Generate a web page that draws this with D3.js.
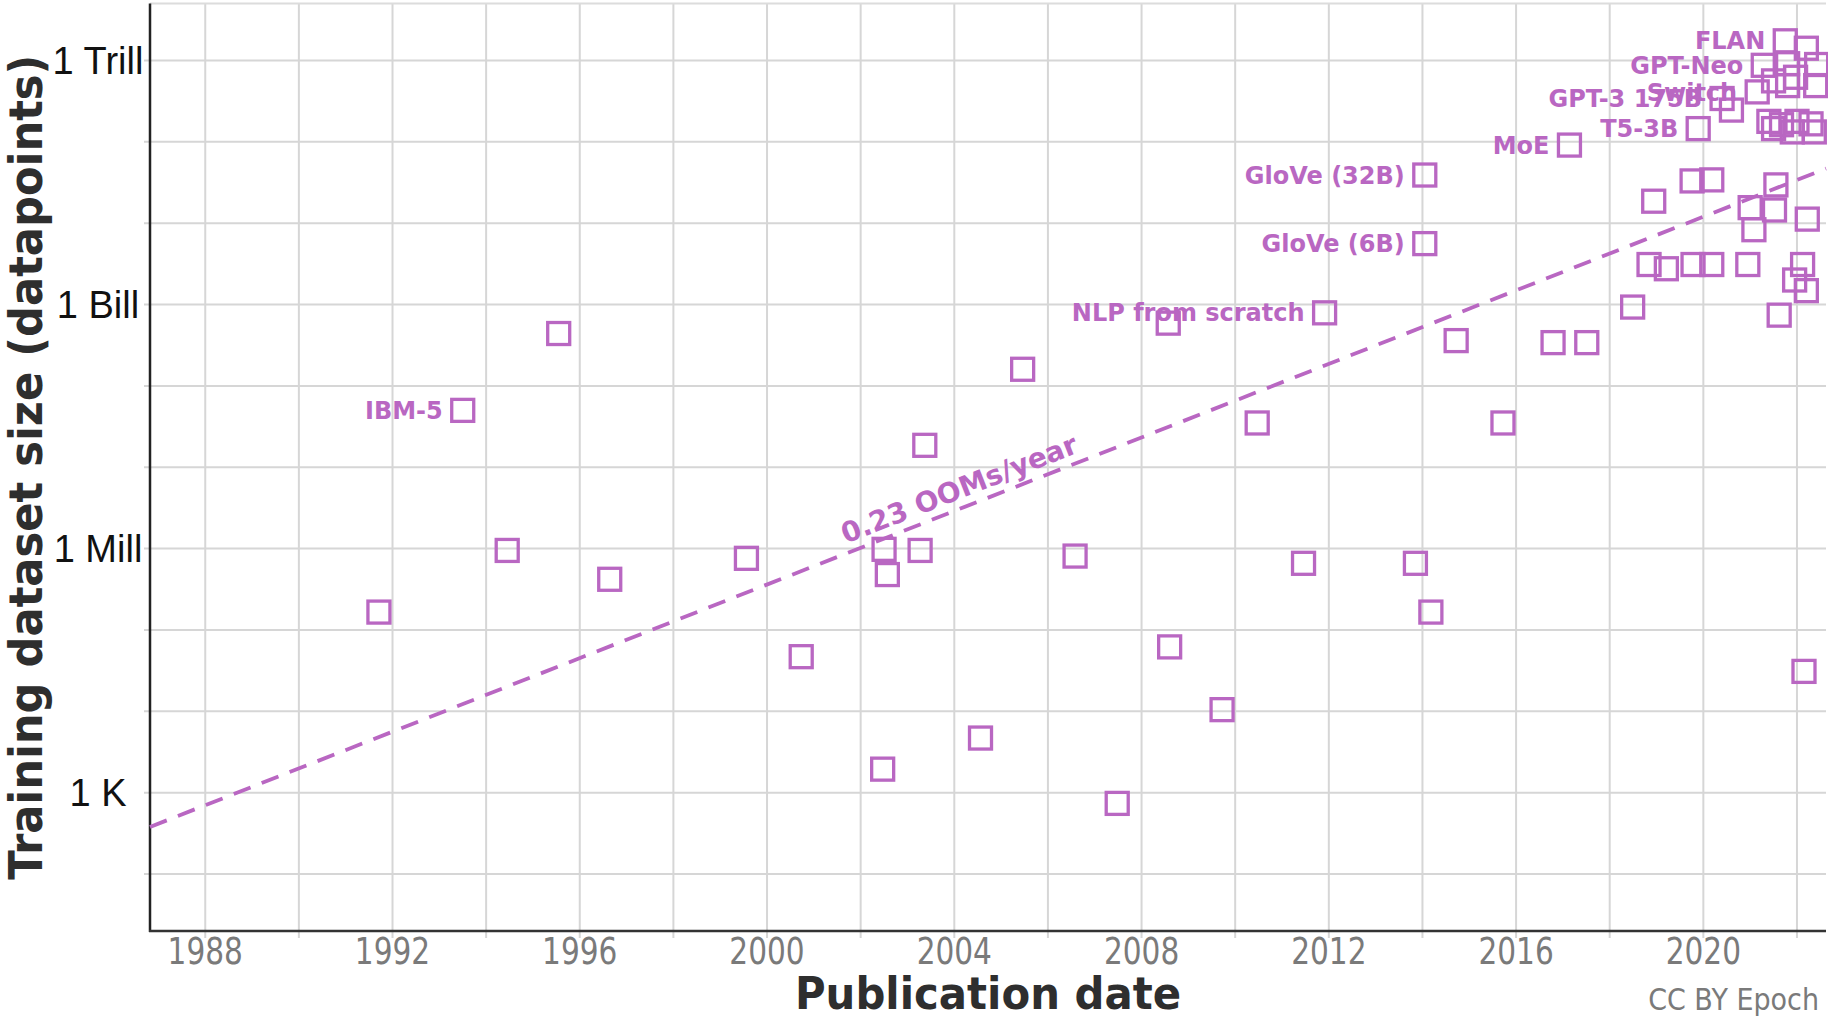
<!DOCTYPE html>
<html><head><meta charset="utf-8">
<script src="https://cdn.jsdelivr.net/npm/d3@7"></script>
<style>html,body{margin:0;padding:0;background:#fff} svg{display:block}</style>
</head><body><svg id="chart" width="1828" height="1018"></svg>
<script>
// ---------- data ----------
const pubYear = [
  1991.71, 1993.50, 1994.45, 1995.55, 1996.64, 1999.56, 2000.73, 2002.47, 2002.50, 2002.57,
  2003.27, 2003.37, 2004.56, 2005.46, 2006.58, 2007.48, 2008.57, 2008.60, 2009.72, 2010.47,
  2011.46, 2011.91, 2013.85, 2014.05, 2014.05, 2014.18, 2014.72, 2015.72, 2016.79, 2017.14,
  2017.51, 2018.49, 2018.94, 2018.84, 2019.21, 2019.76, 2019.89, 2019.78, 2020.18, 2020.18,
  2020.40, 2020.60, 2020.95, 2021.00, 2021.08, 2021.15, 2021.62, 2021.55, 2021.52, 2022.15,
  2022.22, 2022.12, 2022.20, 2021.95, 2021.75, 2022.20, 2021.28, 2021.80, 2022.42, 2021.50,
  2021.97, 2022.40, 2021.80, 2021.40, 2021.50, 2021.67, 2022.00, 2022.30, 2021.90, 2022.37
];
const datasetSize = [
  1.66e5, 5.0e7, 9.5e5, 4.4e8, 4.2e5, 7.6e5, 4.7e4, 1.95e3, 9.8e5, 4.8e5,
  9.5e5, 1.86e7, 4.7e3, 1.6e8, 8.1e5, 740, 5.9e8, 6.2e4, 1.05e4, 3.5e7,
  6.6e5, 7.9e8, 6.6e5, 3.9e10, 5.6e9, 1.66e5, 3.6e8, 3.5e7, 3.4e8, 9.1e10,
  3.4e8, 9.3e8, 1.86e10, 3.1e9, 2.75e9, 3.3e10, 1.45e11, 3.1e9, 3.4e10, 3.1e9,
  3.4e11, 2.45e11, 3.1e9, 1.55e10, 8.3e9, 4.1e11, 7.4e8, 2.95e10, 1.45e10, 3.1e4,
  1.12e10, 3.1e9, 1.48e9, 2.0e9, 1.74e12, 1.41e12, 8.7e11, 9.1e11, 8.9e11, 5.6e11,
  6.2e11, 4.9e11, 4.9e11, 1.78e11, 1.45e11, 1.62e11, 1.78e11, 1.66e11, 1.32e11, 1.32e11
];
const labelNames = ["IBM-5", "NLP from scratch", "GloVe (32B)", "GloVe (6B)", "MoE", "T5-3B", "GPT-3 175B", "Switch", "FLAN", "GPT-Neo"];
const labelIndex = [1, 21, 23, 24, 29, 36, 40, 45, 54, 56];
const xTickYears = [1988, 1992, 1996, 2000, 2004, 2008, 2012, 2016, 2020];
const xGridYears = [1988, 1990, 1992, 1994, 1996, 1998, 2000, 2002, 2004, 2006, 2008, 2010, 2012, 2014, 2016, 2018, 2020, 2022];
const yGridValues = [1e2, 1e3, 1e4, 1e5, 1e6, 1e7, 1e8, 1e9, 1e10, 1e11, 1e12];
const yTickValues = [1e3, 1e6, 1e9, 1e12];
const yTickLabels = ["1 K", "1 Mill", "1 Bill", "1 Trill"];
const trendYears = [1986.82, 2022.62];
const trendValues = [380, 4.68e10];
const trendText = "0.23 OOMs/year";
const trendTextYear = 2004.25;

// ---------- layout ----------
const L = 150, R = 1826, T = 3.5, B = 931;
const purple = "#b967c2";
const svg = d3.select("#chart");
const x = d3.scaleLinear().domain([1986.82, 2022.62]).range([L, R]);
const y = d3.scaleLog().domain([20, 5e12]).range([B, T]);

// grid
const g = svg.append("g");
g.selectAll("line.hg").data(yGridValues).join("line")
  .attr("x1", L - 6).attr("x2", R).attr("y1", d => y(d)).attr("y2", d => y(d))
  .attr("stroke", "#d6d6d6").attr("stroke-width", 2);
g.selectAll("line.vg").data(xGridYears).join("line")
  .attr("x1", d => x(d)).attr("x2", d => x(d)).attr("y1", T).attr("y2", B + 7)
  .attr("stroke", "#d6d6d6").attr("stroke-width", 2);
g.append("line").attr("x1", L).attr("x2", R).attr("y1", T).attr("y2", T)
  .attr("stroke", "#dcdcdc").attr("stroke-width", 2);

// axes lines
svg.append("line").attr("x1", L).attr("x2", L).attr("y1", T).attr("y2", B + 1)
  .attr("stroke", "#222").attr("stroke-width", 2.5);
svg.append("line").attr("x1", L - 1).attr("x2", R).attr("y1", B).attr("y2", B)
  .attr("stroke", "#333").attr("stroke-width", 2.5);

// x tick labels
svg.selectAll("text.xt").data(xTickYears).join("text")
  .attr("transform", d => `translate(${x(d)},964) scale(0.8,1)`)
  .attr("text-anchor", "middle")
  .attr("font-family", "DejaVu Sans").attr("font-size", 37).attr("fill", "#7a7a7a")
  .text(d => d);

// y tick labels
svg.selectAll("text.yt").data(yTickValues).join("text")
  .attr("x", 98).attr("y", d => y(d)).attr("dy", "0.36em")
  .attr("text-anchor", "middle")
  .attr("font-family", "Liberation Sans, Arial, sans-serif").attr("font-size", 38).attr("fill", "#111")
  .text((d, i) => yTickLabels[i]);

// axis titles
svg.append("text")
  .attr("transform", `translate(${(L + R) / 2},1009) scale(0.93,1)`)
  .attr("text-anchor", "middle").attr("font-family", "DejaVu Sans").attr("font-weight", "bold")
  .attr("font-size", 45).attr("fill", "#2e2e2e").text("Publication date");
svg.append("text")
  .attr("transform", `translate(42,${(T + B) / 2}) rotate(-90) scale(0.94,1)`)
  .attr("text-anchor", "middle").attr("font-family", "DejaVu Sans").attr("font-weight", "bold")
  .attr("font-size", 46).attr("fill", "#2e2e2e").text("Training dataset size (datapoints)");

// credit
svg.append("text")
  .attr("transform", `translate(1819,1010) scale(0.87,1)`)
  .attr("text-anchor", "end").attr("font-family", "DejaVu Sans")
  .attr("font-size", 31).attr("fill", "#7a7a7a").text("CC BY Epoch");

// trend line
const tp = trendYears.map((yr, i) => [x(yr), y(trendValues[i])]);
svg.append("line")
  .attr("x1", tp[0][0]).attr("y1", tp[0][1]).attr("x2", tp[1][0]).attr("y2", tp[1][1])
  .attr("stroke", purple).attr("stroke-width", 3.8).attr("stroke-dasharray", "18,12");
const ang = Math.atan2(tp[1][1] - tp[0][1], tp[1][0] - tp[0][0]);
const ly = Math.exp(Math.log(trendValues[0]) + (trendTextYear - trendYears[0]) / (trendYears[1] - trendYears[0]) * (Math.log(trendValues[1]) - Math.log(trendValues[0])));
svg.append("text")
  .attr("transform", `translate(${x(trendTextYear)},${y(ly)}) rotate(${ang * 180 / Math.PI}) translate(0,-19)`)
  .attr("text-anchor", "middle").attr("dy", "0.35em")
  .attr("font-family", "DejaVu Sans").attr("font-weight", "bold")
  .attr("font-size", 28).attr("fill", purple).text(trendText);

// labels
svg.selectAll("text.lab").data(labelIndex).join("text")
  .attr("x", i => x(pubYear[i]) - 20).attr("y", i => y(datasetSize[i])).attr("dy", "0.36em")
  .attr("text-anchor", "end").attr("font-family", "DejaVu Sans").attr("font-weight", "bold")
  .attr("font-size", 24).attr("fill", purple)
  .text((i, k) => labelNames[k]);

// markers
const S = 22;
svg.selectAll("rect.pt").data(pubYear.map((yr, i) => [yr, datasetSize[i]])).join("rect")
  .attr("x", d => x(d[0]) - S / 2).attr("y", d => y(d[1]) - S / 2)
  .attr("width", S).attr("height", S)
  .attr("fill", "none").attr("stroke", purple).attr("stroke-width", 3.3);
</script></body></html>
